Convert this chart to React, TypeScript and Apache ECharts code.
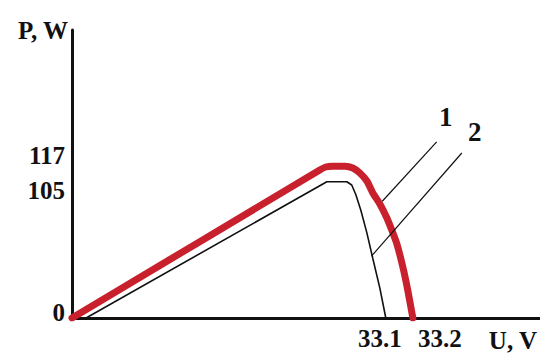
import React, { useEffect, useRef } from "react";
import * as echarts from "echarts";

// Curve 1 (red, thick): U (V) vs P (W)
const curve1U = [31.94, 32.856, 32.878, 32.904, 32.949, 32.978, 33.004, 33.03, 33.052, 33.078, 33.104, 33.122, 33.141, 33.163, 33.181, 33.2];
const curve1P = [0, 114.1, 116.4, 117, 117, 115.6, 111.8, 105.6, 96.4, 87.9, 77.1, 67.8, 57.0, 39.3, 21.6, 0];
// Curve 2 (black, thin)
const curve2U = [31.992, 32.882, 32.956, 32.974, 32.989, 33.008, 33.03, 33.052, 33.078, 33.1];
const curve2P = [0, 105, 105, 102.5, 95.2, 82.9, 65.6, 45.9, 23.0, 0];

const curveNames = ["1", "2"];
const xTickValues = [33.1, 33.2];
const yTickValues = [0, 105, 117];

// leader lines (from curve to label) and label anchors, in data units
const leader1 = [[33.087, 90], [33.288, 135.7]];
const leader2 = [[33.047, 47.7], [33.381, 127.2]];
const label1At = [33.322, 154.9];
const label2At = [33.429, 143.4];

const xAxisName = "U, V";
const yAxisName = "P, W";

const FONT = "Liberation Serif";
const INK = "#111";
const RED = "#c9202e";

const zip = (a: number[], b: number[]) => a.map((v, i) => [v, b[i]]);

export default function App() {
  const ref = useRef<HTMLDivElement>(null);
  useEffect(() => {
    if (!ref.current) return;
    const chart = echarts.init(ref.current, undefined, { renderer: "svg" });
    const txt = { fontFamily: FONT, fontWeight: "bold" as const, fontSize: 25, color: INK };
    const leader = (pts: number[][]) => ({
      silent: true,
      symbol: ["none", "none"],
      label: { show: false },
      lineStyle: { color: INK, width: 1.2, type: "solid" as const },
      data: [[{ coord: pts[0] }, { coord: pts[1] }]],
    });
    const tag = (at: number[], name: string) => ({
      symbol: "circle",
      symbolSize: 1,
      itemStyle: { color: "rgba(0,0,0,0)" },
      label: { show: true, position: "inside", formatter: name, ...txt, fontSize: 27 },
      data: [{ coord: at, value: name }],
    });
    chart.setOption({
      animation: false,
      backgroundColor: "#fff",
      grid: { left: 72, right: 0, top: 30, bottom: 36, outerBoundsMode: "none" },
      xAxis: {
        type: "value",
        min: 31.94,
        max: 33.67,
        name: xAxisName,
        nameLocation: "end",
        nameGap: 0,
        nameTextStyle: { ...txt, align: "right", verticalAlign: "top", padding: [10, 3, 0, 0] },
        axisLine: { show: true, onZero: false, lineStyle: { color: INK, width: 3 } },
        axisTick: { show: false },
        splitLine: { show: false },
        axisLabel: {
          customValues: xTickValues,
          margin: 8,
          formatter: (v: number) => (v === 33.1 ? "{a|33.1}" : "{b|33.2}"),
          rich: {
            a: { ...txt, padding: [0, 12, 0, 0] },
            b: { ...txt, padding: [0, 0, 0, 54] },
          },
        },
      },
      yAxis: {
        type: "value",
        min: 0,
        max: 222,
        name: yAxisName,
        nameLocation: "end",
        nameGap: 0,
        nameTextStyle: { ...txt, align: "right", verticalAlign: "middle", padding: [0, 4, 12, 0] },
        axisLine: { show: true, onZero: false, lineStyle: { color: INK, width: 3 } },
        axisTick: { show: false },
        splitLine: { show: false },
        axisLabel: {
          customValues: yTickValues,
          margin: 7,
          formatter: (v: number) => (v === 117 ? "{a|117}" : v === 105 ? "{b|105}" : "{c|0}"),
          rich: {
            a: { ...txt, padding: [0, 0, 22, 0] },
            b: { ...txt, padding: [18, 0, 0, 0] },
            c: { ...txt, padding: [0, 0, 12, 0] },
          },
        },
      },
      series: [
        {
          name: curveNames[0],
          type: "line",
          data: zip(curve1U, curve1P),
          showSymbol: false,
          smooth: 0.2,
          lineStyle: { color: RED, width: 7, join: "round", cap: "round" },
          z: 2,
          markLine: leader(leader1),
          markPoint: tag(label1At, curveNames[0]),
        },
        {
          name: curveNames[1],
          type: "line",
          data: zip(curve2U, curve2P),
          showSymbol: false,
          smooth: false,
          lineStyle: { color: INK, width: 1.6 },
          z: 3,
          markLine: leader(leader2),
          markPoint: tag(label2At, curveNames[1]),
        },
      ],
    });
    return () => chart.dispose();
  }, []);
  return (
    <div
      ref={ref}
      style={{ position: "fixed", left: 0, top: 0, width: 540, height: 354, background: "#fff" }}
    />
  );
}
